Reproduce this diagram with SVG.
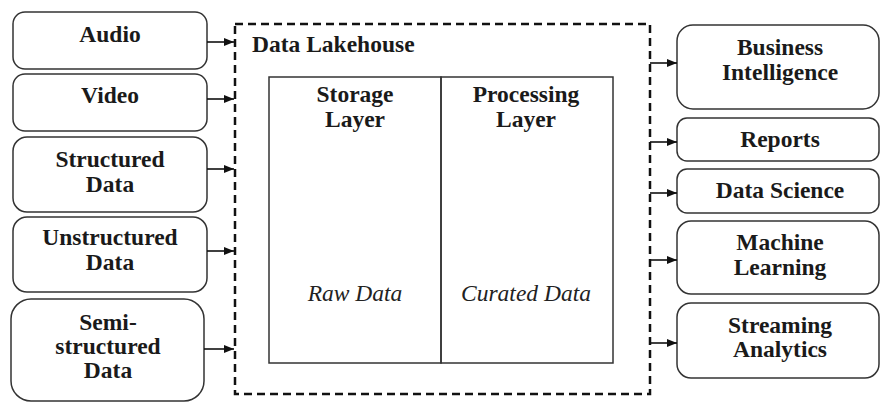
<svg xmlns="http://www.w3.org/2000/svg" width="880" height="403" viewBox="0 0 880 403" font-family="Liberation Serif" font-size="23.5" font-weight="bold">
  <style>
    .box { fill: #ffffff; stroke: #333333; stroke-width: 1.5; }
    .lbl { fill: #1a1a1a; text-anchor: middle; }
    .ital { fill: #222222; text-anchor: middle; }
    .dash { fill: none; stroke: #111111; stroke-width: 2.5; stroke-dasharray: 8 5; }
    .inner { fill: none; stroke: #333333; stroke-width: 1.5; }
    .conn { stroke: #111111; stroke-width: 1.6; fill: none; marker-end: url(#arrow); }
  </style>
  <defs>
    <marker id="arrow" viewBox="0 0 10 8" refX="10" refY="4" markerWidth="10" markerHeight="8" markerUnits="userSpaceOnUse" orient="auto">
      <path d="M0,0 L10,4 L0,8 Z" fill="#111111"/>
    </marker>
  </defs>
  <rect width="880" height="403" fill="#ffffff"/>

  <!-- data sources -->
  <g id="audio">
    <rect class="box" x="13" y="12" width="194" height="57" rx="12"/>
    <text class="lbl" x="110" y="42">Audio</text>
  </g>
  <g id="video">
    <rect class="box" x="13" y="74" width="194" height="57" rx="12"/>
    <text class="lbl" x="110" y="103">Video</text>
  </g>
  <g id="structured">
    <rect class="box" x="13" y="137" width="194" height="75" rx="14"/>
    <text class="lbl" x="110" y="167">Structured</text>
    <text class="lbl" x="110" y="192">Data</text>
  </g>
  <g id="unstructured">
    <rect class="box" x="13" y="217" width="194" height="75" rx="14"/>
    <text class="lbl" x="110" y="245">Unstructured</text>
    <text class="lbl" x="110" y="270">Data</text>
  </g>
  <g id="semistructured">
    <rect class="box" x="11" y="299" width="193" height="102" rx="20"/>
    <text class="lbl" x="108" y="330">Semi-</text>
    <text class="lbl" x="108" y="354">structured</text>
    <text class="lbl" x="108" y="378">Data</text>
  </g>

  <!-- lakehouse -->
  <g id="lakehouse">
    <rect class="dash" x="235" y="24" width="415" height="370"/>
    <text x="252" y="52" fill="#1a1a1a">Data Lakehouse</text>
  </g>
  <g id="storage-layer">
    <rect class="inner" x="269" y="77" width="172" height="286"/>
    <text class="lbl" x="355" y="102">Storage</text>
    <text class="lbl" x="355" y="127">Layer</text>
    <text class="ital" x="355" y="301" font-weight="normal" font-style="italic">Raw Data</text>
  </g>
  <g id="processing-layer">
    <rect class="inner" x="441" y="77" width="172" height="286"/>
    <text class="lbl" x="526" y="102">Processing</text>
    <text class="lbl" x="526" y="127">Layer</text>
    <text class="ital" x="526" y="301" font-weight="normal" font-style="italic">Curated Data</text>
  </g>

  <!-- consumers -->
  <g id="business-intelligence">
    <rect class="box" x="677" y="25" width="202" height="84" rx="16"/>
    <text class="lbl" x="780" y="55">Business</text>
    <text class="lbl" x="780" y="80">Intelligence</text>
  </g>
  <g id="reports">
    <rect class="box" x="677" y="118" width="202" height="43" rx="10"/>
    <text class="lbl" x="780" y="147">Reports</text>
  </g>
  <g id="data-science">
    <rect class="box" x="677" y="169" width="202" height="44" rx="10"/>
    <text class="lbl" x="780" y="198">Data Science</text>
  </g>
  <g id="machine-learning">
    <rect class="box" x="677" y="221" width="202" height="73" rx="14"/>
    <text class="lbl" x="780" y="250">Machine</text>
    <text class="lbl" x="780" y="275">Learning</text>
  </g>
  <g id="streaming-analytics">
    <rect class="box" x="677" y="303" width="202" height="75" rx="14"/>
    <text class="lbl" x="780" y="333">Streaming</text>
    <text class="lbl" x="780" y="357">Analytics</text>
  </g>

  <!-- connectors -->
  <g id="connectors">
    <line class="conn" x1="207" y1="42" x2="234" y2="42"/>
    <line class="conn" x1="207" y1="99" x2="234" y2="99"/>
    <line class="conn" x1="207" y1="169" x2="234" y2="169"/>
    <line class="conn" x1="207" y1="251" x2="234" y2="251"/>
    <line class="conn" x1="204" y1="349" x2="234" y2="349"/>
    <line class="conn" x1="650" y1="63" x2="677" y2="63"/>
    <line class="conn" x1="650" y1="142" x2="677" y2="142"/>
    <line class="conn" x1="650" y1="193" x2="677" y2="193"/>
    <line class="conn" x1="650" y1="260" x2="677" y2="260"/>
    <line class="conn" x1="650" y1="343" x2="677" y2="343"/>
  </g>
</svg>
